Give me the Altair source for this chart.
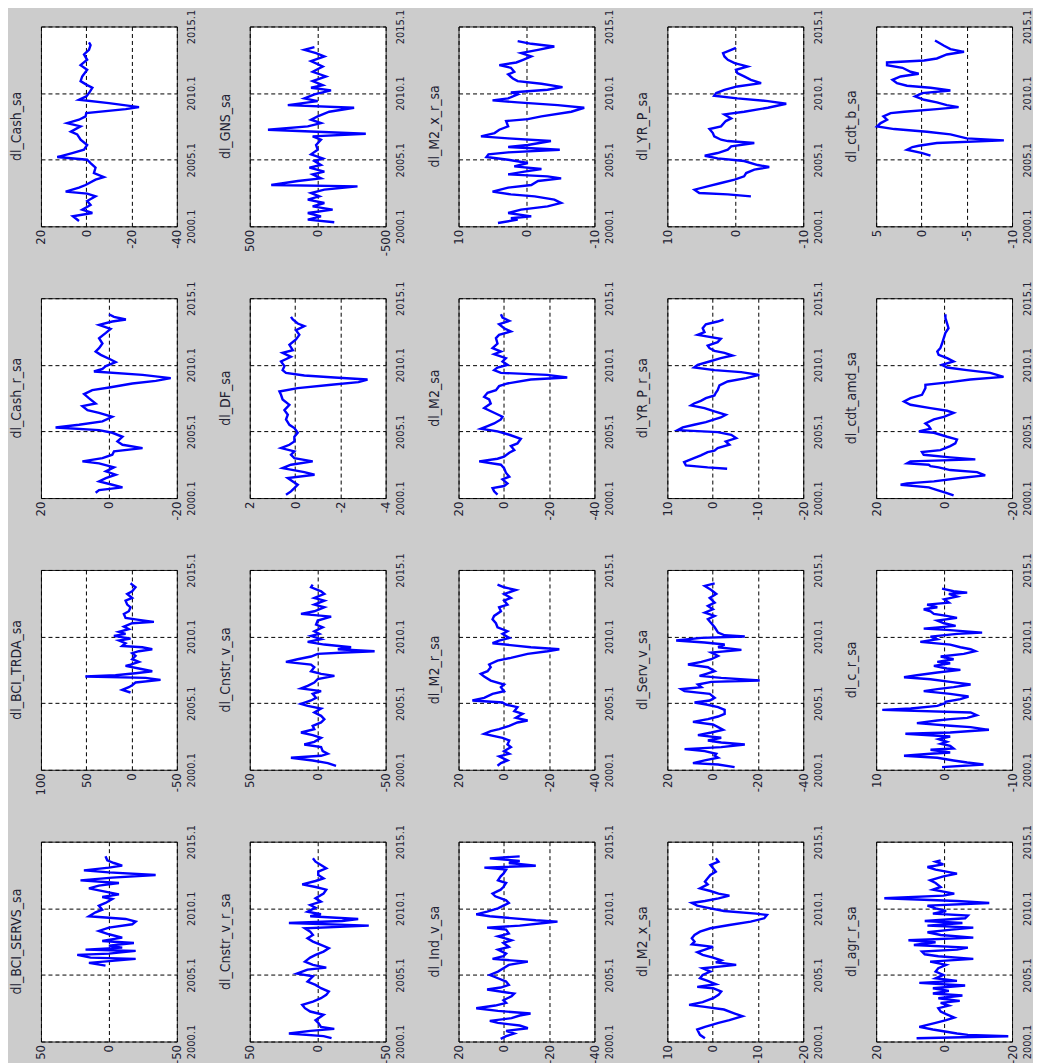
import altair as alt
import pandas as pd

# ---------------- data ----------------
CASH_SA_T = [2000.4, 2000.75, 2001.0, 2001.25, 2001.6, 2001.9, 2002.25, 2002.45, 2002.6, 2002.9, 2003.1, 2003.5, 2003.7, 2004.0, 2004.4, 2004.75, 2005.0, 2005.2, 2005.5, 2005.75, 2006.1, 2006.5, 2006.9, 2007.1, 2007.5, 2007.75, 2008.0, 2008.25, 2008.5, 2008.8, 2008.95, 2009.25, 2009.5, 2009.75, 2010.0, 2010.4, 2010.6, 2010.9, 2011.25, 2011.75, 2012.1, 2012.5, 2012.9, 2013.25, 2013.6, 2013.8]
CASH_SA_V = [3.2, 5.9, -2.7, 1.8, -1.9, -0.4, -4.1, -0.4, 9.1, 3.2, 0.3, -4.1, -7.8, -3.4, -4.1, -1.9, -0.4, 12.8, 6.2, 1.0, -0.4, 2.5, 4.0, 6.8, 2.5, 8.4, 3.2, 0.3, 0.0, -17.4, -23.3, -10.0, 3.2, 0.0, -1.2, -2.7, -0.4, 2.5, 1.8, -0.4, 2.5, -0.4, 1.0, -1.2, -1.9, -1.2]

GNS_SA_T = [2000.3, 2000.5, 2000.75, 2001.0, 2001.25, 2001.5, 2001.75, 2002.0, 2002.25, 2002.5, 2002.75, 2003.0, 2003.1, 2003.4, 2003.6, 2003.9, 2004.1, 2004.4, 2004.6, 2004.9, 2005.1, 2005.4, 2005.75, 2006.1, 2006.5, 2006.75, 2006.95, 2007.25, 2007.5, 2007.75, 2008.0, 2008.25, 2008.6, 2008.9, 2009.1, 2009.4, 2009.6, 2009.9, 2010.2, 2010.4, 2010.6, 2010.9, 2011.25, 2011.6, 2012.0, 2012.4, 2012.75, 2013.0, 2013.25, 2013.45]
GNS_SA_V = [-122, 73, -24, 73, -110, 37, -49, 73, -12, 49, -49, -293, 342, 146, -24, 37, -49, 61, -24, 24, -37, 49, 0, 12, -24, 37, -354, 366, 73, -24, 49, 0, -85, -268, 220, 0, 98, 24, -98, 49, -37, 37, -61, 37, -37, 49, -49, 12, 98, 24]

M2_X_R_SA_T = [2000.25, 2000.5, 2000.6, 2000.75, 2001.0, 2001.25, 2001.5, 2001.75, 2002.0, 2002.25, 2002.4, 2002.6, 2002.9, 2003.1, 2003.4, 2003.6, 2003.75, 2003.9, 2004.1, 2004.3, 2004.5, 2004.75, 2005.0, 2005.2, 2005.4, 2005.55, 2005.75, 2005.95, 2006.1, 2006.4, 2006.6, 2006.75, 2007.0, 2007.25, 2007.5, 2007.9, 2008.05, 2008.25, 2008.6, 2008.9, 2009.1, 2009.3, 2009.45, 2009.6, 2009.9, 2010.05, 2010.25, 2010.45, 2010.7, 2010.9, 2011.1, 2011.4, 2011.6, 2011.9, 2012.1, 2012.3, 2012.5, 2012.75, 2013.0, 2013.25, 2013.5, 2013.7, 2013.9]
M2_X_R_SA_V = [4.2, 1.3, 2.3, -0.7, 2.7, 0.8, -3.1, -5.1, -4.1, -1.2, 2.3, 5.0, 2.7, -0.7, -1.7, -5.1, -3.1, 2.7, 0.3, -2.2, 1.8, -0.2, 2.7, 5.9, 5.6, 2.7, -4.9, 2.7, -0.2, -3.6, 2.7, 6.7, 4.7, 4.0, 2.7, 3.0, -0.2, -2.2, -6.6, -8.5, -4.6, 1.3, 5.0, 2.7, 1.3, 2.3, -3.1, -5.3, -2.2, 1.3, 2.0, 2.7, 1.8, 2.3, 4.0, 1.5, 0.5, -0.7, 0.8, -1.7, -4.1, -0.7, 1.3]

YR_P_SA_T = [2002.25, 2002.4, 2002.5, 2002.75, 2003.0, 2003.25, 2003.5, 2003.75, 2004.0, 2004.25, 2004.45, 2004.6, 2004.9, 2005.1, 2005.3, 2005.5, 2005.75, 2006.0, 2006.25, 2006.4, 2006.5, 2006.75, 2007.0, 2007.3, 2007.5, 2007.9, 2008.1, 2008.4, 2008.6, 2008.9, 2009.2, 2009.4, 2009.6, 2009.8, 2010.0, 2010.25, 2010.5, 2010.75, 2011.0, 2011.25, 2011.5, 2011.75, 2012.0, 2012.25, 2012.5, 2012.75, 2013.0, 2013.25, 2013.4]
YR_P_SA_V = [-2.3, 1.1, 5.3, 6.0, 4.1, 2.1, 0.1, -1.3, -1.6, -2.8, -5.0, -3.3, -1.3, 2.6, 4.5, 2.6, 1.1, 0.6, -2.8, 1.1, 2.1, 3.1, 3.3, 3.8, 2.1, 1.4, 0.6, 1.6, -1.3, -4.8, -7.5, -4.8, -0.3, 3.1, 2.8, 1.6, -0.3, -3.8, -2.3, -1.3, -0.3, -0.1, -1.8, 0.1, 1.1, 1.6, 1.8, 0.6, -0.1]

CDT_B_SA_T = [2005.3, 2005.5, 2005.75, 2005.95, 2006.05, 2006.25, 2006.45, 2006.6, 2006.9, 2007.1, 2007.3, 2007.5, 2007.75, 2008.0, 2008.25, 2008.5, 2008.6, 2008.8, 2008.95, 2009.1, 2009.3, 2009.5, 2009.75, 2010.0, 2010.2, 2010.4, 2010.55, 2010.75, 2011.0, 2011.25, 2011.45, 2011.6, 2011.9, 2012.1, 2012.3, 2012.45, 2012.6, 2012.9, 2013.1, 2013.3, 2013.55, 2013.95]
CDT_B_SA_V = [-1.0, -0.1, 1.6, 1.0, 0.3, -1.7, -9.1, -5.0, -3.2, -0.6, 3.0, 4.9, 4.5, 3.8, 4.2, 3.4, 1.9, -1.7, -4.1, -2.8, -1.7, -0.3, 0.7, -0.1, -3.2, -1.0, 1.6, 2.7, 3.2, 2.3, 0.3, 1.2, 2.1, 3.8, 3.8, -0.3, -1.7, -2.8, -4.7, -3.2, -2.5, -1.5]

CASH_R_SA_T = [2000.4, 2000.6, 2000.8, 2001.0, 2001.25, 2001.5, 2001.75, 2002.0, 2002.3, 2002.6, 2002.75, 2003.0, 2003.25, 2003.5, 2003.75, 2004.0, 2004.25, 2004.6, 2004.9, 2005.1, 2005.3, 2005.5, 2005.75, 2006.1, 2006.4, 2006.6, 2006.9, 2007.1, 2007.5, 2007.8, 2008.1, 2008.3, 2008.6, 2008.8, 2009.0, 2009.25, 2009.5, 2009.7, 2009.9, 2010.2, 2010.4, 2010.75, 2011.0, 2011.25, 2011.6, 2012.0, 2012.4, 2012.7, 2013.0, 2013.25, 2013.4, 2013.6, 2013.8]
CASH_R_SA_V = [3.9, 2.9, -4.0, -1.0, 2.9, 0.9, -2.0, 0.9, -1.5, 2.9, 7.8, 1.9, -1.0, -1.5, -9.9, -4.0, -2.5, -4.0, -1.0, 2.9, 15.7, 8.8, 1.9, -1.0, 2.9, 6.3, 7.8, 3.9, 5.9, 7.3, 4.9, -0.1, -6.9, -13.8, -18.2, -9.9, 4.4, 1.9, 0.9, -2.0, -0.5, 2.4, 3.9, 2.9, 1.9, 2.9, 0.9, -0.5, 2.9, -1.0, -5.0, -1.5, 0.0]

DF_SA_T = [2000.25, 2000.5, 2000.75, 2001.0, 2001.25, 2001.5, 2001.75, 2001.95, 2002.25, 2002.5, 2002.75, 2003.0, 2003.25, 2003.5, 2003.75, 2004.0, 2004.25, 2004.6, 2004.9, 2005.25, 2005.5, 2005.9, 2006.25, 2006.6, 2007.0, 2007.4, 2007.75, 2008.0, 2008.25, 2008.5, 2008.7, 2008.9, 2009.05, 2009.2, 2009.4, 2009.6, 2009.9, 2010.25, 2010.6, 2010.9, 2011.1, 2011.5, 2011.9, 2012.25, 2012.6, 2012.9, 2013.1, 2013.4, 2013.6]
DF_SA_V = [0.40, 0.18, 0.03, -0.12, 0.10, 0.32, -0.86, -0.41, 0.55, 0.18, -0.78, 0.03, 0.18, 0.03, 0.62, 0.25, 0.03, 0.03, -0.12, 0.03, 0.25, 0.40, 0.32, 0.47, 0.25, 0.55, 0.62, 0.69, -0.12, -1.6, -2.8, -3.2, -1.74, -0.41, 0.40, 0.55, 0.47, 0.62, 0.18, 0.55, 0.10, 0.25, -0.04, -0.19, -0.04, -0.41, -0.12, 0.10, 0.18]

M2_SA_T = [2000.25, 2000.5, 2000.75, 2000.9, 2001.1, 2001.4, 2001.6, 2001.9, 2002.25, 2002.5, 2002.75, 2002.95, 2003.1, 2003.4, 2003.6, 2003.9, 2004.1, 2004.45, 2004.75, 2005.0, 2005.2, 2005.4, 2005.6, 2005.9, 2006.1, 2006.4, 2006.75, 2007.1, 2007.4, 2007.6, 2007.9, 2008.1, 2008.4, 2008.6, 2008.9, 2009.05, 2009.25, 2009.4, 2009.6, 2009.8, 2010.0, 2010.25, 2010.5, 2010.8, 2011.0, 2011.25, 2011.6, 2012.0, 2012.25, 2012.5, 2012.75, 2013.05, 2013.3, 2013.55, 2013.8]
M2_SA_V = [2.8, 4.3, 5.0, -0.1, -1.6, 0.6, -2.4, -0.9, -0.1, 1.3, 10.9, 2.8, -0.1, -2.4, -4.6, -3.1, -6.0, -7.5, -2.4, 2.8, 10.2, 7.2, 4.3, 1.3, 0.6, 4.3, 8.7, 5.8, 6.5, 8.7, 7.2, 3.5, 2.1, -1.6, -11.9, -28.0, -19.0, 1.3, 4.3, 2.8, -1.6, 0.6, -0.9, 4.3, 1.3, 5.0, 2.8, 3.5, 2.1, -3.1, -0.1, 2.1, -2.4, 0.6, 1.3]

YR_P_R_SA_T = [2002.2, 2002.3, 2002.45, 2002.7, 2002.95, 2003.2, 2003.45, 2003.55, 2003.75, 2004.0, 2004.25, 2004.5, 2004.75, 2004.95, 2005.1, 2005.3, 2005.5, 2005.7, 2005.9, 2006.05, 2006.25, 2006.5, 2006.75, 2006.95, 2007.1, 2007.3, 2007.5, 2007.7, 2007.9, 2008.1, 2008.45, 2008.75, 2009.0, 2009.25, 2009.45, 2009.6, 2009.8, 2010.0, 2010.25, 2010.5, 2010.7, 2010.9, 2011.05, 2011.25, 2011.45, 2011.7, 2011.95, 2012.25, 2012.45, 2012.75, 2013.05, 2013.25, 2013.4]
YR_P_R_SA_V = [-3.2, 1.1, 5.9, 6.3, 4.4, 2.6, 1.1, -0.4, -1.1, -3.7, -2.9, -5.2, -4.1, -1.1, 7.7, 6.6, 4.1, 1.5, -0.4, -1.8, -2.9, -0.4, 1.8, 4.8, 4.1, 2.6, 1.5, -0.4, -0.7, -1.1, -1.5, -3.3, -7.4, -10.3, -6.3, -0.4, 4.1, 3.3, 0.7, -1.8, -4.4, -2.6, -0.4, 0.7, 1.1, -1.1, -1.8, 3.3, 1.8, 2.2, 1.5, -1.1, -2.4]

CDT_AMD_SA_T = [2000.2, 2000.4, 2000.6, 2000.8, 2001.0, 2001.1, 2001.25, 2001.5, 2001.7, 2001.95, 2002.1, 2002.3, 2002.4, 2002.5, 2002.6, 2002.75, 2002.9, 2003.05, 2003.25, 2003.45, 2003.6, 2003.9, 2004.1, 2004.4, 2004.6, 2004.9, 2005.0, 2005.2, 2005.4, 2005.6, 2005.9, 2006.1, 2006.4, 2006.55, 2006.75, 2007.0, 2007.25, 2007.5, 2007.75, 2008.0, 2008.25, 2008.5, 2008.7, 2008.9, 2009.1, 2009.4, 2009.6, 2009.8, 2010.0, 2010.25, 2010.5, 2010.75, 2011.0, 2011.25, 2011.6, 2012.0, 2012.4, 2012.75, 2013.1, 2013.5, 2013.8]
CDT_AMD_SA_V = [-2.8, -0.4, 2.0, 4.5, 12.8, 10.9, 3.0, -4.8, -12.1, -9.7, -1.8, 1.6, 4.0, 4.5, 10.9, 9.9, -9.2, -1.8, 6.0, 6.5, 1.1, -1.8, -3.3, -3.8, -0.9, 3.0, 7.4, 4.0, 4.5, 5.5, 3.0, 0.1, -2.8, -0.9, 4.0, 9.9, 11.8, 9.9, 6.5, 6.0, 5.5, 5.5, -1.8, -7.7, -17.5, -13.6, -6.7, -0.9, 0.6, -2.8, -0.9, 1.6, 2.0, 1.1, 0.6, 0.1, -0.4, -1.3, -0.9, -0.4, -0.4]

BCI_TRDA_SA_T = [2005.8, 2006.0, 2006.2, 2006.35, 2006.55, 2006.75, 2006.9, 2007.0, 2007.1, 2007.25, 2007.4, 2007.6, 2007.8, 2007.9, 2008.1, 2008.3, 2008.55, 2008.75, 2008.9, 2009.05, 2009.2, 2009.3, 2009.5, 2009.7, 2009.85, 2010.05, 2010.2, 2010.35, 2010.55, 2010.75, 2011.0, 2011.1, 2011.25, 2011.4, 2011.7, 2011.9, 2012.2, 2012.4, 2012.7, 2012.9, 2013.2, 2013.4, 2013.7, 2013.9, 2014.0]
BCI_TRDA_SA_V = [1.1, 10.3, 3.0, -0.7, -4.4, -32.0, -15.5, 51.0, 17.7, -4.4, -22.9, -8.1, 6.6, 1.1, -8.1, -0.7, -4.4, -0.7, -8.1, -22.9, -11.8, 10.3, 6.6, 14.0, 1.1, 19.5, 6.6, 14.0, 3.0, 8.5, -0.7, -24.7, -8.1, 6.6, 8.5, 3.0, 1.1, 4.8, 6.6, -0.7, 4.8, -0.7, -4.4, -0.7, 1.1]

CNSTR_V_SA_T = [2000.3, 2000.5, 2000.7, 2000.9, 2001.05, 2001.2, 2001.4, 2001.7, 2001.9, 2002.1, 2002.4, 2002.6, 2002.8, 2003.05, 2003.3, 2003.55, 2003.8, 2004.05, 2004.3, 2004.6, 2004.8, 2004.95, 2005.2, 2005.4, 2005.7, 2005.9, 2006.1, 2006.3, 2006.55, 2006.8, 2007.05, 2007.2, 2007.4, 2007.7, 2007.9, 2008.1, 2008.3, 2008.5, 2008.7, 2008.8, 2008.9, 2009.05, 2009.2, 2009.4, 2009.6, 2009.8, 2010.05, 2010.2, 2010.4, 2010.7, 2010.9, 2011.2, 2011.5, 2011.7, 2011.9, 2012.2, 2012.4, 2012.7, 2012.9, 2013.2, 2013.4, 2013.7, 2013.9]
CNSTR_V_SA_V = [-13.5, -7.4, 3.7, 19.7, -2.5, -7.4, -3.7, -2.5, 9.9, 2.5, -2.5, 3.7, 12.3, 2.5, 3.7, -2.5, -4.9, -2.5, 2.5, -2.5, 7.4, 12.3, 4.9, 1.2, 3.7, -2.5, 12.3, 7.4, 2.5, 0.0, -12.3, -2.5, 4.9, 2.5, 4.9, 23.4, 14.8, 4.9, 0.0, -19.7, -41.9, -14.8, -24.6, -4.9, 7.4, -2.5, 4.9, -1.2, 2.5, -3.7, 1.2, 0.0, -9.9, 12.3, 2.5, -4.9, 2.5, -4.9, 2.5, -4.9, -2.5, 4.9, 3.7]

M2_R_SA_T = [2000.3, 2000.5, 2000.7, 2001.0, 2001.2, 2001.4, 2001.7, 2001.9, 2002.2, 2002.4, 2002.7, 2002.9, 2003.05, 2003.3, 2003.55, 2003.7, 2003.9, 2004.2, 2004.4, 2004.7, 2004.9, 2005.05, 2005.2, 2005.4, 2005.7, 2005.9, 2006.2, 2006.4, 2006.7, 2007.0, 2007.2, 2007.4, 2007.7, 2007.9, 2008.2, 2008.4, 2008.7, 2008.9, 2009.05, 2009.2, 2009.5, 2009.7, 2009.9, 2010.2, 2010.4, 2010.7, 2011.0, 2011.3, 2011.55, 2011.9, 2012.2, 2012.4, 2012.7, 2012.9, 2013.2, 2013.5, 2013.7, 2013.9]
M2_R_SA_V = [2.8, 1.3, -1.6, 2.1, -2.4, -0.1, -3.1, -1.6, -2.4, 0.6, 8.7, 5.8, 2.1, -2.4, -6.0, -10.5, -5.3, -8.3, -4.6, -6.0, -0.9, 0.6, 13.9, 8.7, 5.0, -0.1, 1.3, -0.1, 5.8, 8.7, 10.2, 7.2, 5.8, 6.5, 2.8, -3.1, -10.5, -19.3, -24.5, -11.9, 5.0, 2.1, -2.4, 0.6, -1.6, 2.8, 3.5, 5.0, 4.3, 1.3, 2.1, -1.6, -0.1, -3.1, -0.1, -5.3, -0.1, 2.8]

SERV_V_SA_T = [2000.2, 2000.4, 2000.5, 2000.7, 2000.9, 2001.05, 2001.2, 2001.4, 2001.55, 2001.7, 2001.9, 2002.05, 2002.2, 2002.4, 2002.6, 2002.8, 2003.0, 2003.2, 2003.4, 2003.6, 2003.8, 2004.0, 2004.2, 2004.5, 2004.7, 2004.9, 2005.05, 2005.2, 2005.4, 2005.7, 2005.9, 2006.05, 2006.2, 2006.4, 2006.6, 2006.7, 2006.9, 2007.05, 2007.2, 2007.4, 2007.7, 2007.9, 2008.1, 2008.3, 2008.55, 2008.8, 2009.0, 2009.2, 2009.4, 2009.55, 2009.7, 2009.9, 2010.0, 2010.1, 2010.3, 2010.7, 2011.0, 2011.3, 2011.55, 2011.8, 2012.05, 2012.3, 2012.55, 2012.9, 2013.2, 2013.5, 2013.8, 2014.0]
SERV_V_SA_V = [-9.7, -2.4, 8.7, 3.5, -2.4, -0.9, -1.6, 3.5, 12.4, -3.8, -14.2, -3.8, 2.1, -3.8, 6.5, 0.6, -4.6, -2.4, -0.1, 8.7, 2.1, -2.4, -5.3, -5.3, -2.4, 2.8, 8.0, 1.3, -0.9, 1.3, 12.4, 13.9, 5.0, 6.5, 0.6, -20.8, -3.8, 5.8, 2.8, -0.9, 2.1, 10.9, 5.0, 0.6, -2.4, 0.6, -12.7, -2.4, -5.3, 3.5, 16.1, 5.0, -14.2, -5.3, -2.4, -0.9, 0.6, 2.1, -0.9, 3.5, -0.1, 2.1, -0.9, 1.3, -1.6, 0.6, 3.5, -0.9]

C_R_SA_T = [2000.2, 2000.4, 2000.55, 2000.7, 2000.9, 2001.05, 2001.2, 2001.3, 2001.5, 2001.6, 2001.8, 2001.95, 2002.1, 2002.3, 2002.5, 2002.7, 2002.8, 2003.0, 2003.2, 2003.3, 2003.5, 2003.7, 2003.8, 2003.9, 2004.1, 2004.3, 2004.5, 2004.6, 2004.8, 2005.0, 2005.1, 2005.3, 2005.5, 2005.7, 2005.9, 2006.05, 2006.2, 2006.4, 2006.6, 2006.8, 2006.95, 2007.1, 2007.3, 2007.5, 2007.6, 2007.8, 2008.0, 2008.1, 2008.3, 2008.5, 2008.7, 2008.9, 2009.05, 2009.2, 2009.4, 2009.6, 2009.8, 2010.0, 2010.2, 2010.3, 2010.5, 2010.6, 2010.8, 2011.0, 2011.2, 2011.4, 2011.55, 2011.7, 2011.9, 2012.05, 2012.2, 2012.4, 2012.55, 2012.8, 2013.0, 2013.2, 2013.3, 2013.4, 2013.6]
C_R_SA_V = [0.3, -5.8, -3.4, -1.4, 1.0, 5.9, 2.0, -0.9, 2.0, -1.4, -0.9, 0.5, -0.4, 0.8, -0.9, 5.7, -0.9, -6.6, -3.9, -0.9, 4.0, 1.0, -0.9, -3.4, -4.8, -3.9, 9.1, 4.9, 1.0, -0.2, -0.2, -2.4, -3.6, -0.9, 3.0, 1.0, -1.4, -3.9, -0.9, 2.0, 5.9, 4.0, 1.0, -2.4, -0.4, 1.5, -0.9, 1.0, -1.4, 0.5, -2.9, -4.6, -3.9, -2.4, -0.9, 3.5, 1.0, 2.0, -1.9, -5.6, -0.4, 3.0, -1.7, 0.0, 1.0, -1.9, -0.4, 1.5, 2.0, 3.0, 1.0, 2.5, -0.7, 0.0, -1.9, -0.7, -3.4, -1.4, 0.3]

BCI_SERVS_SA_T = [2005.7, 2005.9, 2006.2, 2006.3, 2006.5, 2006.6, 2006.8, 2006.9, 2007.05, 2007.2, 2007.4, 2007.55, 2007.8, 2008.05, 2008.3, 2008.55, 2008.8, 2009.0, 2009.2, 2009.4, 2009.7, 2009.9, 2010.2, 2010.4, 2010.7, 2010.85, 2011.05, 2011.2, 2011.5, 2011.7, 2011.9, 2012.1, 2012.3, 2012.5, 2012.7, 2012.85, 2013.05, 2013.2, 2013.4, 2013.6, 2013.9]
BCI_SERVS_SA_V = [2.5, 14.7, -19.7, 13.5, 23.3, 0.0, -19.7, 17.2, -9.8, 0.0, -18.4, 4.9, -9.8, 0.0, 7.4, 0.0, -17.2, -19.7, -12.3, 14.7, 9.8, 4.9, 7.4, 2.5, -2.5, 4.9, -7.4, 0.0, 14.7, 7.4, -7.4, 20.9, -2.5, -34.4, 0.0, 18.4, 0.0, -9.8, -3.7, 1.2, 2.5]

CNSTR_V_R_SA_T = [2000.25, 2000.4, 2000.6, 2000.8, 2000.95, 2001.1, 2001.4, 2001.6, 2002.0, 2002.25, 2002.5, 2002.75, 2003.0, 2003.25, 2003.5, 2003.75, 2004.0, 2004.25, 2004.5, 2004.9, 2005.1, 2005.4, 2005.55, 2005.75, 2006.0, 2006.3, 2006.5, 2006.75, 2007.0, 2007.25, 2007.5, 2007.75, 2008.0, 2008.25, 2008.5, 2008.7, 2008.9, 2009.05, 2009.2, 2009.4, 2009.55, 2009.75, 2010.05, 2010.25, 2010.5, 2010.75, 2011.1, 2011.4, 2011.6, 2011.8, 2012.05, 2012.25, 2012.5, 2012.75, 2013.0, 2013.25, 2013.5, 2013.75]
CNSTR_V_R_SA_V = [-10.2, -4.3, 21.2, 5.5, -12.2, -2.4, -0.4, 1.6, -4.3, 5.5, 9.4, 11.4, 3.5, -2.4, -6.3, -8.2, -2.4, 1.6, 7.5, 3.5, 15.3, 7.5, -6.3, 3.5, 9.4, 5.5, 1.6, -4.3, -8.2, -2.4, 3.5, 7.5, 3.5, 5.5, 9.4, -37.6, 21.2, -18.0, -29.8, 5.5, -2.4, 7.5, 1.6, 5.5, -2.4, 1.6, -4.3, -6.3, 1.6, 11.4, 1.6, -4.3, -0.4, -0.4, -6.3, -2.4, 1.6, 3.5]

IND_V_SA_T = [2000.2, 2000.4, 2000.6, 2000.8, 2001.0, 2001.2, 2001.4, 2001.55, 2001.75, 2001.95, 2002.1, 2002.3, 2002.5, 2002.7, 2002.9, 2003.1, 2003.4, 2003.6, 2003.9, 2004.05, 2004.25, 2004.5, 2004.75, 2005.0, 2005.25, 2005.5, 2005.75, 2006.0, 2006.2, 2006.4, 2006.6, 2006.9, 2007.1, 2007.4, 2007.6, 2007.9, 2008.1, 2008.4, 2008.55, 2008.7, 2008.9, 2009.0, 2009.1, 2009.4, 2009.55, 2009.75, 2010.0, 2010.2, 2010.4, 2010.6, 2010.9, 2011.1, 2011.4, 2011.6, 2011.9, 2012.1, 2012.4, 2012.6, 2012.9, 2013.05, 2013.2, 2013.4, 2013.55, 2013.75, 2013.9]
IND_V_SA_V = [1.4, -1.0, -4.6, -1.0, -10.6, -7.0, 2.6, 6.2, -3.4, -7.0, -11.8, 2.6, 12.2, 3.8, -1.0, 0.2, -3.4, -4.6, 7.4, 1.4, -2.2, -1.0, 2.6, 6.2, 2.6, 0.2, -2.2, -10.6, 5.0, 0.2, -1.0, 2.6, -2.2, 0.2, -3.4, 2.6, -2.2, -1.0, 7.4, -7.0, -17.7, -23.7, -14.1, 6.2, 12.2, 7.4, 2.6, 0.2, -2.2, -1.0, 3.8, 5.0, 1.4, 0.2, -1.0, 2.6, 1.4, 0.2, -1.0, 8.6, -14.1, -2.2, -7.0, 6.2, -7.0]

M2_X_SA_T = [2000.25, 2000.5, 2000.9, 2001.1, 2001.4, 2001.6, 2001.9, 2002.1, 2002.4, 2002.6, 2002.75, 2002.95, 2003.25, 2003.5, 2003.75, 2004.0, 2004.1, 2004.3, 2004.55, 2004.75, 2005.0, 2005.25, 2005.5, 2005.75, 2005.95, 2006.1, 2006.3, 2006.5, 2006.7, 2006.9, 2007.1, 2007.3, 2007.5, 2007.75, 2008.0, 2008.25, 2008.5, 2008.75, 2009.0, 2009.25, 2009.5, 2009.6, 2009.8, 2010.0, 2010.2, 2010.4, 2010.55, 2010.75, 2010.95, 2011.1, 2011.3, 2011.5, 2011.8, 2012.0, 2012.25, 2012.5, 2012.75, 2013.0, 2013.25, 2013.5, 2013.75]
M2_X_SA_V = [1.7, 2.8, 3.4, 1.7, -1.3, -3.7, -6.6, -4.9, -2.5, 1.7, 5.2, 2.2, -0.1, -1.3, -1.9, -0.1, 3.4, -0.7, 1.1, 2.8, 2.2, 0.5, 2.2, -5.2, -0.7, -1.9, -0.1, 2.2, 3.4, 1.7, -0.1, 4.6, 4.0, 4.6, 4.0, 2.8, 0.5, -3.7, -8.4, -11.4, -12.0, -9.6, -2.5, 0.5, 3.4, 4.6, 1.7, -1.3, -3.7, -1.3, 0.5, 2.8, 1.1, 1.7, 1.1, 0.5, -0.7, -0.1, 0.5, -1.3, -0.7]

AGR_R_SA_T = [2000.25, 2000.4, 2000.5, 2000.6, 2000.9, 2001.1, 2001.4, 2001.6, 2001.8, 2002.05, 2002.25, 2002.5, 2002.7, 2002.9, 2003.05, 2003.25, 2003.45, 2003.6, 2003.8, 2004.0, 2004.2, 2004.4, 2004.55, 2004.75, 2005.0, 2005.25, 2005.5, 2005.75, 2006.0, 2006.2, 2006.4, 2006.55, 2006.75, 2006.9, 2007.05, 2007.25, 2007.45, 2007.6, 2007.8, 2008.0, 2008.2, 2008.4, 2008.55, 2008.7, 2008.9, 2009.05, 2009.25, 2009.45, 2009.6, 2009.8, 2010.0, 2010.2, 2010.4, 2010.55, 2010.75, 2010.95, 2011.1, 2011.4, 2011.6, 2011.9, 2012.1, 2012.4, 2012.6, 2012.9, 2013.1, 2013.3, 2013.5, 2013.6]
AGR_R_SA_V = [8.1, -18.9, -7.0, -3.8, 3.3, 7.3, 2.5, -0.6, -3.0, -0.6, 1.0, 1.7, -1.4, 1.0, -4.6, 1.7, -5.4, 3.3, -1.4, 3.3, -6.2, 7.3, -3.8, 2.5, 0.2, 2.5, 1.7, -0.6, 4.1, -8.6, 1.7, 5.7, 6.5, -3.8, -7.0, 8.9, 2.5, 10.5, -8.6, 1.0, 4.9, -2.2, -8.6, 4.9, -5.4, 5.7, -6.2, -7.0, 3.3, -0.6, 2.5, 4.9, -13.3, -3.8, 17.6, 0.2, -3.0, 3.3, 1.0, 2.5, 4.1, 0.2, -3.8, 2.5, 4.9, 0.2, 2.5, 1.0]

TITLES = ["dl_Cash_sa", "dl_GNS_sa", "dl_M2_x_r_sa", "dl_YR_P_sa", "dl_cdt_b_sa",
          "dl_Cash_r_sa", "dl_DF_sa", "dl_M2_sa", "dl_YR_P_r_sa", "dl_cdt_amd_sa",
          "dl_BCI_TRDA_sa", "dl_Cnstr_v_sa", "dl_M2_r_sa", "dl_Serv_v_sa", "dl_c_r_sa",
          "dl_BCI_SERVS_sa", "dl_Cnstr_v_r_sa", "dl_Ind_v_sa", "dl_M2_x_sa", "dl_agr_r_sa"]

SERIES = [(CASH_SA_T, CASH_SA_V), (GNS_SA_T, GNS_SA_V), (M2_X_R_SA_T, M2_X_R_SA_V), (YR_P_SA_T, YR_P_SA_V), (CDT_B_SA_T, CDT_B_SA_V),
          (CASH_R_SA_T, CASH_R_SA_V), (DF_SA_T, DF_SA_V), (M2_SA_T, M2_SA_V), (YR_P_R_SA_T, YR_P_R_SA_V), (CDT_AMD_SA_T, CDT_AMD_SA_V),
          (BCI_TRDA_SA_T, BCI_TRDA_SA_V), (CNSTR_V_SA_T, CNSTR_V_SA_V), (M2_R_SA_T, M2_R_SA_V), (SERV_V_SA_T, SERV_V_SA_V), (C_R_SA_T, C_R_SA_V),
          (BCI_SERVS_SA_T, BCI_SERVS_SA_V), (CNSTR_V_R_SA_T, CNSTR_V_R_SA_V), (IND_V_SA_T, IND_V_SA_V), (M2_X_SA_T, M2_X_SA_V), (AGR_R_SA_T, AGR_R_SA_V)]

# value-axis tick labels of each panel (left to right)
VALUE_TICKS = [[20, 0, -20, -40], [500, 0, -500], [10, 0, -10], [10, 0, -10], [5, 0, -5, -10],
               [20, 0, -20], [2, 0, -2, -4], [20, 0, -20, -40], [10, 0, -10, -20], [20, 0, -20],
               [100, 50, 0, -50], [50, 0, -50], [20, 0, -20, -40], [20, 0, -20, -40], [10, 0, -10],
               [50, 0, -50], [50, 0, -50], [20, 0, -20, -40], [10, 0, -10, -20], [20, 0, -20]]

TIME_TICKS = [2000, 2005, 2010, 2015]

FONT = "Liberation Sans Narrow, Arial Narrow, DejaVu Sans Condensed, Liberation Sans, sans-serif"
TXT = "#222233"

charts = []
for title, (t, v), ticks in zip(TITLES, SERIES, VALUE_TICKS):
    df = pd.DataFrame({"t": t, "v": v})
    c = alt.Chart(df).mark_line(color="#0000ff", strokeWidth=2.4).encode(
        x=alt.X("v:Q",
                scale=alt.Scale(domain=[min(ticks), max(ticks)], reverse=True, nice=False, zero=False),
                axis=alt.Axis(values=ticks, title=None, orient="bottom", labelAngle=270,
                              labelExpr="datum.value + ''", labelPadding=3, labelFlush=False,
                              labelOverlap=False, labelFontSize=13)),
        y=alt.Y("t:Q",
                scale=alt.Scale(domain=[2000, 2015], nice=False, zero=False),
                axis=alt.Axis(values=TIME_TICKS, title=None, orient="right", labelAngle=270,
                              labelAlign="center", labelBaseline="top",
                              labelExpr="format(datum.value, 'd') + '.1'", labelPadding=9,
                              labelFlush=False, labelOverlap=False, labelFontSize=11)),
        order=alt.Order("t:Q"),
    ).properties(
        width=136, height=200,
        title=alt.TitleParams(text=title, orient="left", anchor="middle", offset=11,
                              fontSize=14, font=FONT, fontWeight="normal", color=TXT),
    )
    charts.append(c)

chart = alt.concat(*charts, columns=5, bounds="flush",
                   spacing={"row": 72, "column": 73}).configure(
    background="#cccccc",
    padding={"left": 1, "top": 0, "right": 0, "bottom": 0},
).configure_view(
    fill="white", stroke="#222222", strokeWidth=1,
).configure_axis(
    domain=False, ticks=False, grid=True, gridColor="#000000", gridDash=[4, 3],
    gridOpacity=1, gridWidth=1, labelFont=FONT, labelColor=TXT,
)

chart.save("out.html", embed_options={"renderer": "svg", "actions": False})
